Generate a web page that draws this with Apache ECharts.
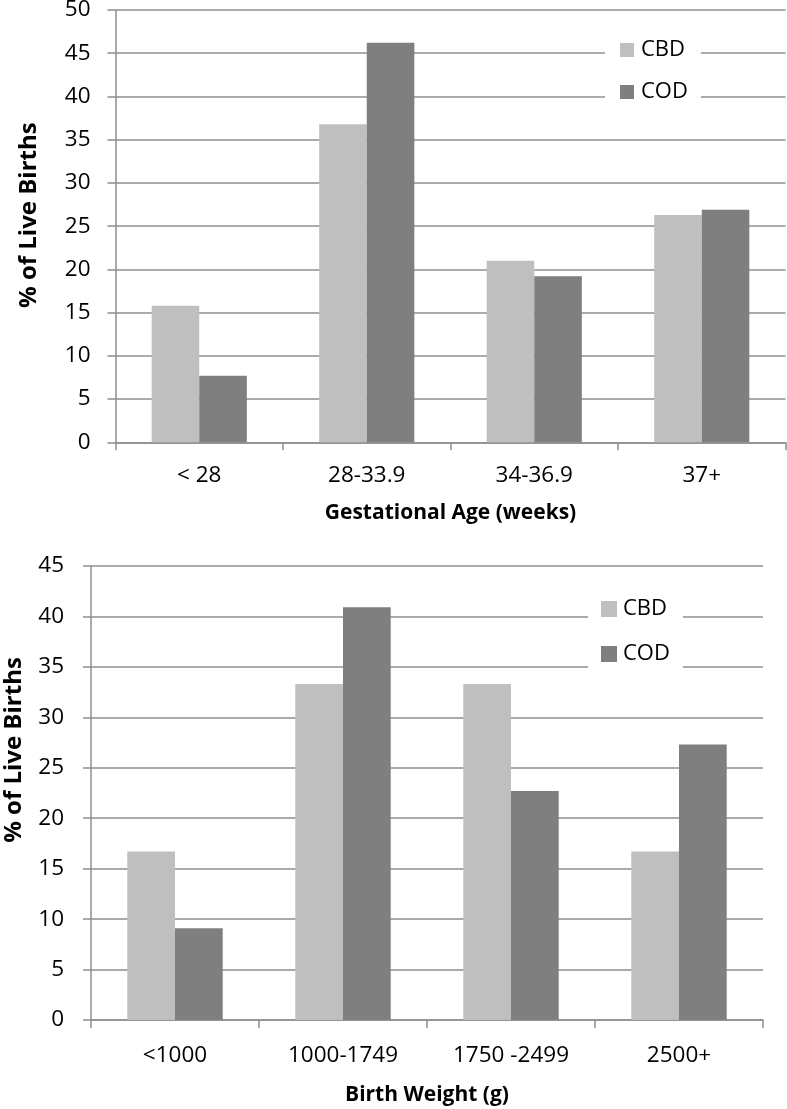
<!DOCTYPE html>
<html>
<head>
<meta charset="utf-8">
<script src="https://cdn.jsdelivr.net/npm/echarts@6/dist/echarts.min.js"></script>
<style>
html,body{margin:0;padding:0;background:#fff;}
#chart{width:787px;height:1109px;}
</style>
</head>
<body>
<div id="chart"></div>
<script>
const seriesNames = ['CBD', 'COD'];
const topCategories = ['< 28', '28-33.9', '34-36.9', '37+'];
const topCBD = [15.8, 36.8, 21.0, 26.3];
const topCOD = [7.7, 46.2, 19.2, 26.9];
const topAxisMax = 50;
const bottomCategories = ['<1000', '1000-1749', '1750 -2499', '2500+'];
const bottomCBD = [16.7, 33.3, 33.3, 16.7];
const bottomCOD = [9.1, 40.9, 22.7, 27.3];
const bottomAxisMax = 45;
const tickStep = 5;
const topXTitle = 'Gestational Age (weeks)';
const bottomXTitle = 'Birth Weight (g)';
const yTitle = '% of Live Births';

const FONT = '"Open Sans", "Noto Sans", sans-serif';
const lineColor = '#8f8f8f';
const colors = ['#bfbfbf', '#7f7f7f'];

function xAxis(gridIndex, data, name, labelMargin, nameGap) {
  return {
    type: 'category', gridIndex, data,
    name, nameLocation: 'middle', nameGap,
    nameTextStyle: {fontFamily: FONT, fontSize: 21, fontWeight: 'bold', color: '#000'},
    axisLine: {lineStyle: {color: lineColor, width: 1.5}},
    axisTick: {show: true, length: 8, lineStyle: {color: lineColor, width: 1.5}},
    axisLabel: {fontFamily: FONT, fontSize: 22.5, color: '#000', margin: labelMargin}
  };
}
function yAxis(gridIndex, max, labelMargin, nameGap, shiftPad) {
  return {
    type: 'value', gridIndex, min: 0, max, interval: tickStep,
    name: yTitle, nameLocation: 'middle', nameGap, nameRotate: 90,
    nameTextStyle: {fontFamily: FONT, fontSize: 24, fontWeight: 'bold', color: '#000', padding: [0, 0, 0, shiftPad]},
    axisLine: {show: true, lineStyle: {color: lineColor, width: 1.5}},
    axisTick: {show: true, length: 8, lineStyle: {color: lineColor, width: 1.5}},
    splitLine: {show: true, lineStyle: {color: lineColor, width: 1.5}},
    axisLabel: {fontFamily: FONT, fontSize: 22.5, color: '#000', margin: labelMargin}
  };
}
function bar(name, data, idx, color) {
  return {
    name, type: 'bar', xAxisIndex: idx, yAxisIndex: idx, data,
    barWidth: '28.4%', barGap: '0%',
    itemStyle: {color}
  };
}

const chart = echarts.init(document.getElementById('chart'), null, {renderer: 'canvas'});
chart.setOption({
  animation: false,
  backgroundColor: '#fff',
  grid: [
    {left: 115.5, top: 10, width: 670, height: 432.3, outerBoundsMode: 'none', containLabel: false},
    {left: 91, top: 566, width: 672, height: 454, outerBoundsMode: 'none', containLabel: false}
  ],
  legend: [
    {
      data: seriesNames, orient: 'vertical', left: 605, top: 29,
      backgroundColor: '#fff', padding: [9, 13, 9, 15],
      itemWidth: 14, itemHeight: 14, itemGap: 18, icon: 'rect',
      textStyle: {fontFamily: FONT, fontSize: 22, color: '#000', lineHeight: 24, padding: [0, 0, 0, 2]}
    },
    {
      data: seriesNames, orient: 'vertical', left: 588, top: 589,
      backgroundColor: '#fff', padding: [8, 13, 8, 13],
      itemWidth: 16, itemHeight: 16, itemGap: 21, icon: 'rect',
      textStyle: {fontFamily: FONT, fontSize: 22, color: '#000', lineHeight: 24, padding: [0, 0, 0, 1]}
    }
  ],
  xAxis: [
    xAxis(0, topCategories, topXTitle, 22, 60),
    xAxis(1, bottomCategories, bottomXTitle, 24, 65)
  ],
  yAxis: [
    yAxis(0, topAxisMax, 25, 74, 22),
    yAxis(1, bottomAxisMax, 27, 65, 86)
  ],
  color: colors,
  series: [
    bar(seriesNames[0], topCBD, 0, colors[0]),
    bar(seriesNames[1], topCOD, 0, colors[1]),
    bar(seriesNames[0], bottomCBD, 1, colors[0]),
    bar(seriesNames[1], bottomCOD, 1, colors[1])
  ]
});
</script>
</body>
</html>
